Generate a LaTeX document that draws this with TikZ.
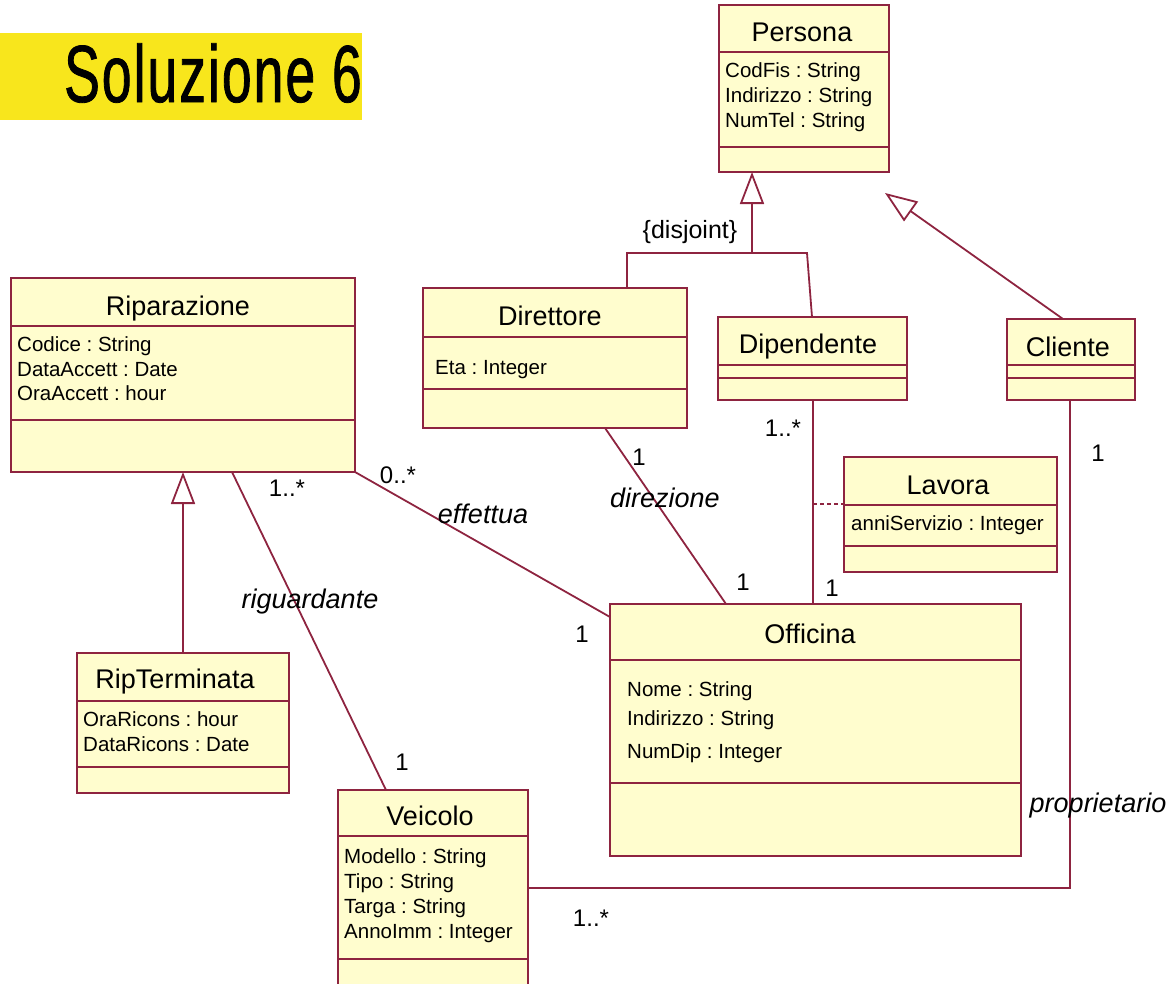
\documentclass[tikz,border=0pt]{standalone}
\usepackage{fontspec}
\setmainfont{Liberation Sans}
\newfontfamily\titlefont{Liberation Sans}[FakeStretch=0.66, FakeBold=1.0, LetterSpace=2.5]
\usetikzlibrary{arrows.meta}
\frenchspacing

\definecolor{umlline}{RGB}{142,36,64}
\definecolor{umlfill}{RGB}{255,253,206}
\definecolor{banner}{RGB}{248,230,28}

\tikzset{
  uml/.style={draw=umlline, line width=1.8pt},
  classbox/.style={uml, fill=umlfill, rectangle, inner sep=0pt, outer sep=0pt},
  cname/.style={font=\fontsize{27}{30}\selectfont, anchor=base, inner sep=0pt},
  attr/.style={font=\fontsize{20.5}{24}\selectfont, anchor=base west, inner sep=0pt},
  role/.style={font=\fontsize{27}{30}\selectfont\itshape, inner sep=0pt},
  mult/.style={font=\fontsize{24}{26}\selectfont, inner sep=0pt},
  gen/.style={uml, -{Triangle[open, length=32pt, width=24pt, line width=1.8pt]}},
}

% class box: name, left x, top y, width, height
\newcommand\umlbox[5]{%
  \node[classbox, minimum width=#4pt, minimum height=#5pt, anchor=north west] (#1) at (#2,#3) {};}
% compartment separator: box name, distance from the top edge
\newcommand\compline[2]{%
  \draw[uml] ([yshift=-#2pt]#1.north west) -- ([yshift=-#2pt]#1.north east);}

\begin{document}
\begin{tikzpicture}[x=1pt, y=-1pt]
\useasboundingbox (0,0) rectangle (1173,983);
\clip (0,0) rectangle (1173,983);

% banner
\fill[banner] (0,33) rectangle (362,120);
\begin{scope}
  \clip (0,33) rectangle (362,120);
  \node[anchor=base west, inner sep=0pt, font=\titlefont\fontsize{81}{81}\selectfont]
    (title) at (64,102) {Soluzione 6};
\end{scope}

% class boxes
\umlbox{persona}{719}{5}{170}{167}
\compline{persona}{47}\compline{persona}{142}
\umlbox{ripa}{11}{278}{344}{194}
\compline{ripa}{48}\compline{ripa}{142}
\umlbox{direttore}{423}{288}{264}{140}
\compline{direttore}{49}\compline{direttore}{101}
\umlbox{dipendente}{718}{317}{189}{83}
\compline{dipendente}{48}\compline{dipendente}{61}
\umlbox{cliente}{1007}{319}{128}{81}
\compline{cliente}{46}\compline{cliente}{59}
\umlbox{lavora}{844}{457}{213}{115}
\compline{lavora}{48}\compline{lavora}{89}
\umlbox{officina}{610}{604}{411}{252}
\compline{officina}{56}\compline{officina}{179}
\umlbox{ripterm}{77}{653}{212}{140}
\compline{ripterm}{48}\compline{ripterm}{114}
\umlbox{veicolo}{338}{790}{190}{205}
\compline{veicolo}{46}\compline{veicolo}{169}

% class names
\node[cname] (persona-n) at (802,41) {Persona};
\node[cname] (ripa-n) at (178,315) {Riparazione};
\node[cname] (direttore-n) at (550,325) {Direttore};
\node[cname] (dipendente-n) at (808,353) {Dipendente};
\node[cname] (cliente-n) at (1068,356) {Cliente};
\node[cname] (lavora-n) at (948,494) {Lavora};
\node[cname] (officina-n) at (810,643) {Officina};
\node[cname] (ripterm-n) at (175,688) {RipTerminata};
\node[cname] (veicolo-n) at (430,825) {Veicolo};

% attributes
\node[attr] (persona-a1) at (725,77) {CodFis : String};
\node[attr] (persona-a2) at (725,102) {Indirizzo : String};
\node[attr] (persona-a3) at (725,127) {NumTel : String};
\node[attr] (ripa-a1) at (17,351) {Codice : String};
\node[attr] (ripa-a2) at (17,376) {DataAccett : Date};
\node[attr] (ripa-a3) at (17,400) {OraAccett : hour};
\node[attr] (direttore-a1) at (435,374) {Eta : Integer};
\node[attr] (lavora-a1) at (851,530) {anniServizio : Integer};
\node[attr] (officina-a1) at (627,696) {Nome : String};
\node[attr] (officina-a2) at (627,725) {Indirizzo : String};
\node[attr] (officina-a3) at (627,758) {NumDip : Integer};
\node[attr] (ripterm-a1) at (83,726) {OraRicons : hour};
\node[attr] (ripterm-a2) at (83,751) {DataRicons : Date};
\node[attr] (veicolo-a1) at (344,863) {Modello : String};
\node[attr] (veicolo-a2) at (344,888) {Tipo : String};
\node[attr] (veicolo-a3) at (344,913) {Targa : String};
\node[attr] (veicolo-a4) at (344,938) {AnnoImm : Integer};

% generalisation Persona <- {Direttore, Dipendente}
\coordinate (gjoin) at (752,253);
\coordinate (gleft) at (627,253);
\coordinate (gright) at (807,253);
\draw[gen] (gjoin) -- ([xshift=33pt]persona.south west);
\draw[uml] ([xshift=204pt]direttore.north west) -- (gleft) -- (gright)
  -- ([xshift=94pt]dipendente.north west);
\node[mult, font=\fontsize{25}{27}\selectfont] (disjoint) at (690,232) {\{disjoint\}};

% generalisation Persona <- Cliente
\coordinate (cliapex) at (885,193);
\draw[gen] ([xshift=56pt]cliente.north west) -- (cliapex);

% generalisation Riparazione <- RipTerminata
\draw[gen] ([xshift=106pt]ripterm.north west) -- ([xshift=172pt]ripa.south west);

% association riguardante
\draw[uml] ([xshift=221pt]ripa.south west) -- ([xshift=48pt]veicolo.north west);
\node[mult] (m-rig1) at (287,488) {1..*};
\node[role] (r-rig) at (310,602) {riguardante};
\node[mult] (m-rig2) at (402,762) {1};

% association effettua
\draw[uml] (ripa.south east) -- ([yshift=-13pt]officina.north west);
\node[mult] (m-eff1) at (398,475) {0..*};
\node[role] (r-eff) at (483,514) {effettua};
\node[mult] (m-eff2) at (582,634) {1};

% association direzione
\draw[uml] ([xshift=182pt]direttore.south west) -- ([xshift=116pt]officina.north west);
\node[mult] (m-dir1) at (639,457) {1};
\node[role] (r-dir) at (665,498) {direzione};
\node[mult] (m-dir2) at (743,582) {1};

% association Dipendente - Officina with class Lavora
\draw[uml] ([xshift=95pt]dipendente.south west) -- ([xshift=203pt]officina.north west);
\coordinate (lavjoin) at (813,504);
\draw[uml, line width=1.2pt, dash pattern=on 4pt off 3pt] (lavjoin) -- ([yshift=-47pt]lavora.north west);
\node[mult] (m-lav1) at (783,428) {1..*};
\node[mult] (m-lav2) at (832,588) {1};

% association proprietario
\draw[uml] ([xshift=63pt]cliente.south west) |- ([yshift=-98pt]veicolo.north east);
\node[mult] (m-pro1) at (1098,453) {1};
\node[role] (r-pro) at (1098,806) {proprietario};
\node[mult] (m-pro2) at (591,918) {1..*};

\end{tikzpicture}
\end{document}
